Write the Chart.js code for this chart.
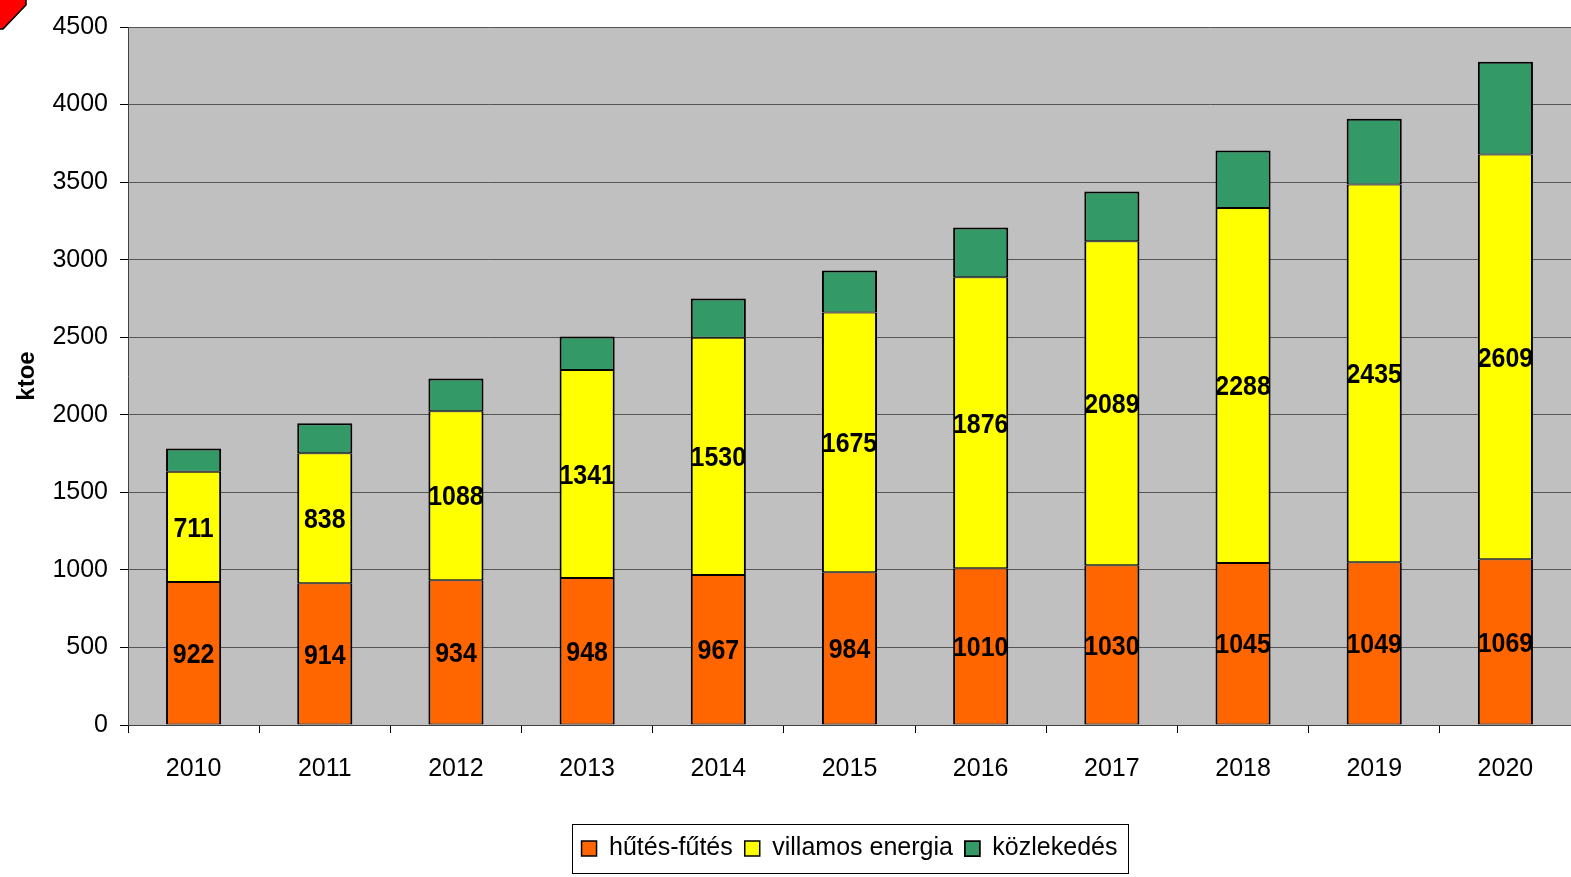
<!DOCTYPE html>
<html>
<head>
<meta charset="utf-8">
<script src="https://cdn.jsdelivr.net/npm/chart.js@4.4.1/dist/chart.umd.min.js"></script>
<style>
    html, body { margin: 0; padding: 0; background: #fff; }
    #wrap { width: 1571px; height: 877px; }
</style>
</head>
<body>
<div id="wrap"><canvas id="chart"></canvas></div>
<script>
'use strict'

// data (ktoe)
const years = ['2010','2011','2012','2013','2014','2015','2016','2017','2018','2019','2020'];
const heating = [922, 914, 934, 948, 967, 984, 1010, 1030, 1045, 1049, 1069];
const electricity = [711, 838, 1088, 1341, 1530, 1675, 1876, 2089, 2288, 2435, 2609];
const transport = [150, 193, 212, 216, 253, 271, 321, 320, 370, 425, 598];
const seriesNames = ['hűtés-fűtés', 'villamos energia', 'közlekedés'];
const seriesColors = ['#FF6600', '#FFFF00', '#339966'];
const yMax = 4500;
const yStep = 500;

Chart.defaults.font.family = '"Liberation Sans", Arial, sans-serif';
Chart.defaults.color = '#000';

/******  little plugins  ******/

// grey plot area
const plotBackground = {
    id: 'plotBackground',
    beforeDraw(chart) {
        const {ctx, chartArea: a} = chart;
        ctx.save();
        ctx.fillStyle = '#C0C0C0';
        ctx.fillRect(a.left, a.top, a.right - a.left, a.bottom - a.top);
        ctx.restore();
    }
};

// values inside the orange and yellow segments (narrow bold look)
const barLabels = {
    id: 'barLabels',
    afterDatasetsDraw(chart) {
        const ctx = chart.ctx;
        [0, 1].forEach(i => {
            const meta = chart.getDatasetMeta(i);
            meta.data.forEach((bar, j) => {
                const v = chart.data.datasets[i].data[j];
                ctx.save();
                ctx.translate(bar.x, (bar.y + bar.base) / 2 + 2);
                ctx.scale(0.89, 1);
                ctx.font = 'bold 28px "Liberation Sans", Arial, sans-serif';
                ctx.fillStyle = '#000';
                ctx.textAlign = 'center';
                ctx.textBaseline = 'middle';
                ctx.fillText(String(v), 0, 0);
                ctx.restore();
            });
        });
    }
};

// centre the legend under the plot area, not the whole canvas
const legendShift = {
    id: 'legendShift',
    afterUpdate(chart) {
        const lg = chart.legend;
        if (!lg || !lg.legendHitBoxes) return;
        const a = chart.chartArea;
        const shift = (a.left + a.right) / 2 - (lg.left + lg.right) / 2;
        lg.left += shift;
        lg.right += shift;
        lg.legendHitBoxes.forEach(b => { b.left += shift; });
    }
};

// frame round the legend
const legendBox = {
    id: 'legendBox',
    afterDraw(chart) {
        const boxes = chart.legend && chart.legend.legendHitBoxes;
        if (!boxes || !boxes.length) return;
        const left = Math.min(...boxes.map(b => b.left)) - 10;
        const right = Math.max(...boxes.map(b => b.left + b.width)) + 10;
        const top = Math.min(...boxes.map(b => b.top)) - 12;
        const bottom = Math.max(...boxes.map(b => b.top + b.height)) + 12;
        const ctx = chart.ctx;
        ctx.save();
        ctx.strokeStyle = '#000';
        ctx.lineWidth = 1;
        ctx.strokeRect(Math.round(left) + 0.5, Math.round(top) + 0.5, Math.round(right - left), Math.round(bottom - top));
        ctx.restore();
    }
};

// the red corner mark top left
const cornerMark = {
    id: 'cornerMark',
    afterDraw(chart) {
        const ctx = chart.ctx;
        ctx.save();
        ctx.beginPath();
        ctx.moveTo(0, 0);
        ctx.lineTo(26, 0);
        ctx.lineTo(26, 5);
        ctx.lineTo(3, 29);
        ctx.lineTo(0, 29);
        ctx.closePath();
        ctx.fillStyle = '#FF0000';
        ctx.fill();
        ctx.beginPath();
        ctx.moveTo(26, 0);
        ctx.lineTo(26, 5);
        ctx.lineTo(3, 29);
        ctx.lineTo(0, 29);
        ctx.strokeStyle = '#000';
        ctx.lineWidth = 1.5;
        ctx.stroke();
        ctx.restore();
    }
};

/******  chart  ******/

// borders sit inside each segment, so joins get 1px from each side
const makeSet = (i, data, topBorder) => ({
    label: seriesNames[i],
    data: data,
    backgroundColor: seriesColors[i],
    borderColor: '#000',
    borderWidth: { left: 2, right: 2, top: topBorder, bottom: 1 },
    borderSkipped: false,
    categoryPercentage: 1,
    barPercentage: 0.42
});

const ctx = document.getElementById('chart');
const chart = new Chart(ctx, {
    type: 'bar',
    data: {
        labels: years,
        datasets: [makeSet(0, heating, 1), makeSet(1, electricity, 1), makeSet(2, transport, 2)]
    },
    options: {
        responsive: true,
        maintainAspectRatio: false,
        animation: false,
        layout: { padding: { top: 25, right: 0, bottom: 6, left: 0 } },
        scales: {
            x: {
                stacked: true,
                afterFit(scale) { scale.height = 99; },
                grid: { offset: true, drawOnChartArea: false, drawTicks: true, tickLength: 8, color: '#000' },
                border: { color: '#404040', width: 1 },
                ticks: { font: { size: 25 }, color: '#000', padding: 21, maxRotation: 0 }
            },
            y: {
                stacked: true,
                min: 0,
                max: yMax,
                afterFit(scale) { scale.width = 128; },
                grid: { color: '#555', lineWidth: 1, tickLength: 8, tickColor: '#000' },
                border: { color: '#404040', width: 1 },
                ticks: { stepSize: yStep, font: { size: 25 }, color: '#000', padding: 12, callback: v => String(v) },
                title: { display: true, text: 'ktoe', font: { size: 24, weight: 'bold' }, color: '#000', padding: { top: 13, bottom: 0 } }
            }
        },
        plugins: {
            legend: {
                position: 'bottom',
                labels: { boxWidth: 15, boxHeight: 15, font: { size: 25 }, color: '#000', padding: 12 }
            },
            tooltip: { enabled: false }
        }
    },
    plugins: [plotBackground, barLabels, legendShift, legendBox, cornerMark]
});
</script>
</body>
</html>
